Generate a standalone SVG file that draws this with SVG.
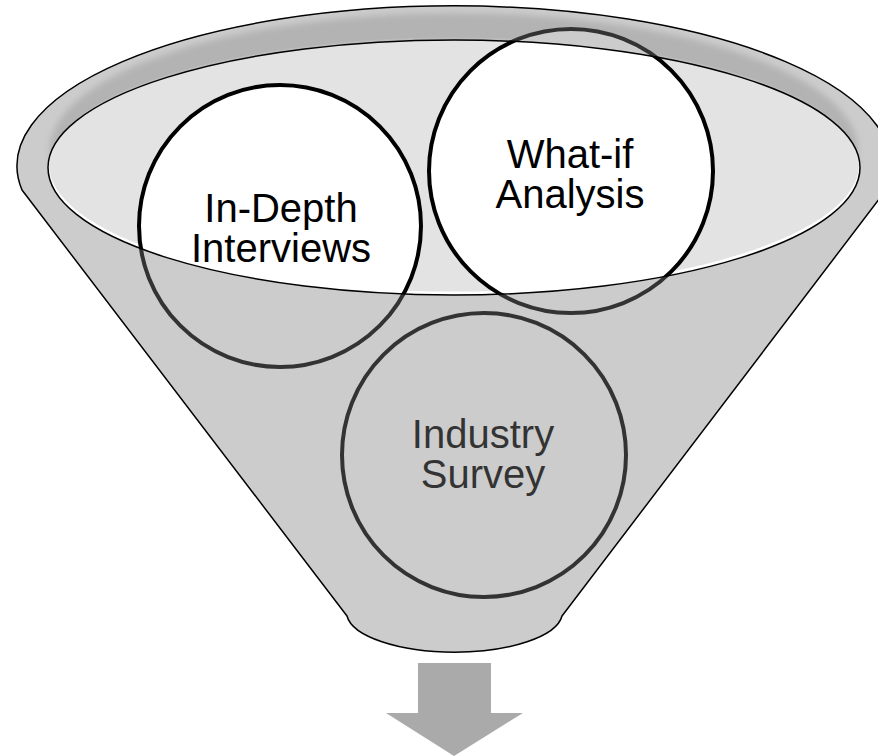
<svg xmlns="http://www.w3.org/2000/svg" width="878" height="756" viewBox="0 0 878 756">
  <defs>
    <filter id="soft" x="-10%" y="-20%" width="120%" height="140%">
      <feGaussianBlur stdDeviation="3"/>
    </filter>
    <style>
      .ring { fill: #ffffff; stroke: #000000; stroke-width: 4; }
      .label { font-family: "Liberation Sans", Arial, sans-serif; font-size: 40px; fill: #000000; text-anchor: middle; }
      .outline { fill: none; stroke: #000000; stroke-width: 1.5; stroke-linejoin: round; }
    </style>
  </defs>

  <!-- back of the funnel: mouth shading and opening -->
  <g id="funnel-back">
    <ellipse cx="454" cy="150" rx="404" ry="137" fill="#d6d6d6" filter="url(#soft)"/>
    <ellipse cx="454" cy="167.5" rx="406" ry="127.5" fill="#ffffff"/>
    <ellipse cx="454" cy="164.5" rx="405" ry="127" fill="#e3e3e3"/>
  </g>

  <g id="node-in-depth">
    <circle class="ring" cx="280" cy="226" r="141"/>
    <text class="label" x="281" y="222">In-Depth</text>
    <text class="label" x="281" y="262">Interviews</text>
  </g>

  <g id="node-what-if">
    <circle class="ring" cx="571" cy="171" r="142"/>
    <text class="label" x="570" y="168">What-if</text>
    <text class="label" x="570" y="208">Analysis</text>
  </g>

  <g id="node-industry-survey">
    <circle class="ring" cx="484" cy="455" r="142"/>
    <text class="label" x="483" y="448">Industry</text>
    <text class="label" x="483" y="488">Survey</text>
  </g>

  <!-- translucent front of the funnel, with the mouth left open -->
  <g id="funnel-front">
    <path fill="#808080" fill-opacity="0.4" fill-rule="evenodd"
          d="M 22,190 A 437 160 0 1 1 886,190 L 562,616 A 108 40 0 0 1 347,616 Z
             M 48,167.5 A 406 127.5 0 1 0 860,167.5 A 406 127.5 0 1 0 48,167.5 Z"/>
    <path class="outline" d="M 22,190 A 437 160 0 1 1 886,190 L 562,616 A 108 40 0 0 1 347,616 Z"/>
    <ellipse class="outline" cx="454" cy="167.5" rx="406" ry="127.5"/>
  </g>

  <g id="connectors">
    <polygon fill="#aaaaaa" points="418,663 491,663 491,713 523,713 454,756 386,713 418,713"/>
  </g>
</svg>
